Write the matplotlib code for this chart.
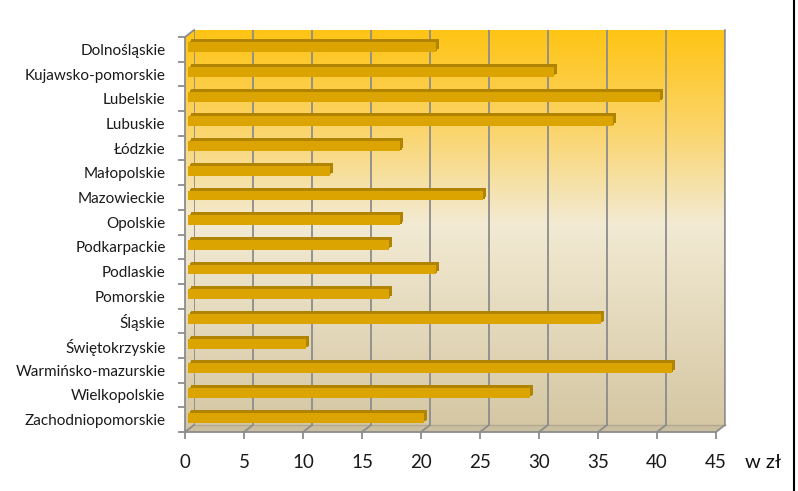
import numpy as np
import matplotlib
matplotlib.use("Agg")
import matplotlib.pyplot as plt
import matplotlib.transforms as mtransforms
from matplotlib.colors import LinearSegmentedColormap
from matplotlib.patches import Polygon

# data
regions = ["Dolnośląskie", "Kujawsko-pomorskie", "Lubelskie", "Lubuskie", "Łódzkie",
           "Małopolskie", "Mazowieckie", "Opolskie", "Podkarpackie", "Podlaskie",
           "Pomorskie", "Śląskie", "Świętokrzyskie", "Warmińsko-mazurskie",
           "Wielkopolskie", "Zachodniopomorskie"]
values = [21, 31, 40, 36, 18, 12, 25, 18, 17, 21, 17, 35, 10, 41, 29, 20]
x_ticks = [0, 5, 10, 15, 20, 25, 30, 35, 40, 45]
unit_label = "w zł"

plt.rcParams['font.family'] = ['Lato', 'DejaVu Sans']

W, H, DPI = 798, 491, 100
fig = plt.figure(figsize=(W / DPI, H / DPI), dpi=DPI)

# front plane of the 3D box (pixels) and depth offset
L, R, T, B = 185, 716, 37, 432
DX, DY = 9, 7
grid_col = "#8c8c8c"

# background layer in pixel coordinates
ax_bg = fig.add_axes([0, 0, 1, 1], zorder=0)
ax_bg.set_xlim(0, W)
ax_bg.set_ylim(H, 0)
ax_bg.set_axis_off()

cmap = LinearSegmentedColormap.from_list(
    "wall", [(0.0, "#ffc414"), (0.25, "#fbd56c"), (0.48, "#f2ead3"), (1.0, "#d4c6a2")])
grad = np.linspace(0, 1, 256).reshape(-1, 1)
im = ax_bg.imshow(grad, cmap=cmap, aspect="auto",
                  extent=(L, R + DX, B, T - DY), interpolation="bilinear")
clip = Polygon([(L, T), (L + DX, T - DY), (R + DX, T - DY), (R + DX, B - DY),
                (R, B), (L, B)], closed=True, transform=ax_bg.transData)
im.set_clip_path(clip)

# floor
ax_bg.add_patch(Polygon([(L, B), (R, B), (R + DX, B - DY), (L + DX, B - DY)],
                        closed=True, facecolor="#c9bea0", edgecolor="none"))
ax_bg.plot([L, L + DX], [T, T - DY], color=grid_col, lw=1.3)
ax_bg.plot([R + DX, R + DX], [T - DY, B - DY], color="#a0a0a0", lw=1.3)
ax_bg.plot([L + DX, R + DX], [B - DY, B - DY], color="#b0a890", lw=1.0)
for t in x_ticks:
    xf = L + (R - L) * t / x_ticks[-1]
    ax_bg.plot([xf, xf + DX], [B, B - DY], color=grid_col, lw=1.3)

# right border line
ax_bg.plot([794, 794], [0, H], color="black", lw=1.5)

# back wall gridlines
ax_back = fig.add_axes([(L + DX) / W, 1 - (B - DY) / H, (R - L) / W, (B - T) / H], zorder=1)
ax_back.set_xlim(0, 45)
ax_back.patch.set_visible(False)
ax_back.set_axis_off()
for t in x_ticks:
    ax_back.axvline(t, color=grid_col, lw=1.3)

# front axes with bars
ax = fig.add_axes([L / W, 1 - B / H, (R - L) / W, (B - T) / H], zorder=2)
ax.patch.set_visible(False)
ax.set_xlim(0, 45)
ax.set_ylim(len(regions) - 0.5, -0.5)

y = np.arange(len(regions))
off_face = ax.transData + mtransforms.ScaledTranslation(3 / DPI, 2 / DPI, fig.dpi_scale_trans)
off_mid = ax.transData + mtransforms.ScaledTranslation(4.5 / DPI, 3.5 / DPI, fig.dpi_scale_trans)
off_back = ax.transData + mtransforms.ScaledTranslation(6 / DPI, 5 / DPI, fig.dpi_scale_trans)
ax.barh(y, values, height=0.4, color="#b08400", transform=off_back)
ax.barh(y, values, height=0.4, color="#b08400", transform=off_mid)
ax.barh(y, values, height=0.4, color="#dba400", transform=off_face)

for s in ["top", "right"]:
    ax.spines[s].set_visible(False)
for s in ["left", "bottom"]:
    ax.spines[s].set_color(grid_col)
    ax.spines[s].set_linewidth(1.3)

ax.set_xticks(x_ticks)
ax.set_xticklabels([str(t) for t in x_ticks])
ax.tick_params(axis="x", length=5, width=1.3, color=grid_col, pad=11,
               labelsize=13.5, labelcolor="#1a1a1a")
ax.set_yticks(y)
ax.set_yticklabels(regions)
ax.tick_params(axis="y", which="major", length=0, pad=14, labelsize=11,
               labelcolor="#1a1a1a")
ax.set_yticks(np.arange(-0.5, len(regions), 1), minor=True)
ax.tick_params(axis="y", which="minor", length=5, width=1.3, color=grid_col)

fig.text(745 / W, 1 - 463 / H, unit_label, ha="left", va="center", fontsize=14.5,
         color="#111111")

fig.savefig("out.png", dpi=DPI)
